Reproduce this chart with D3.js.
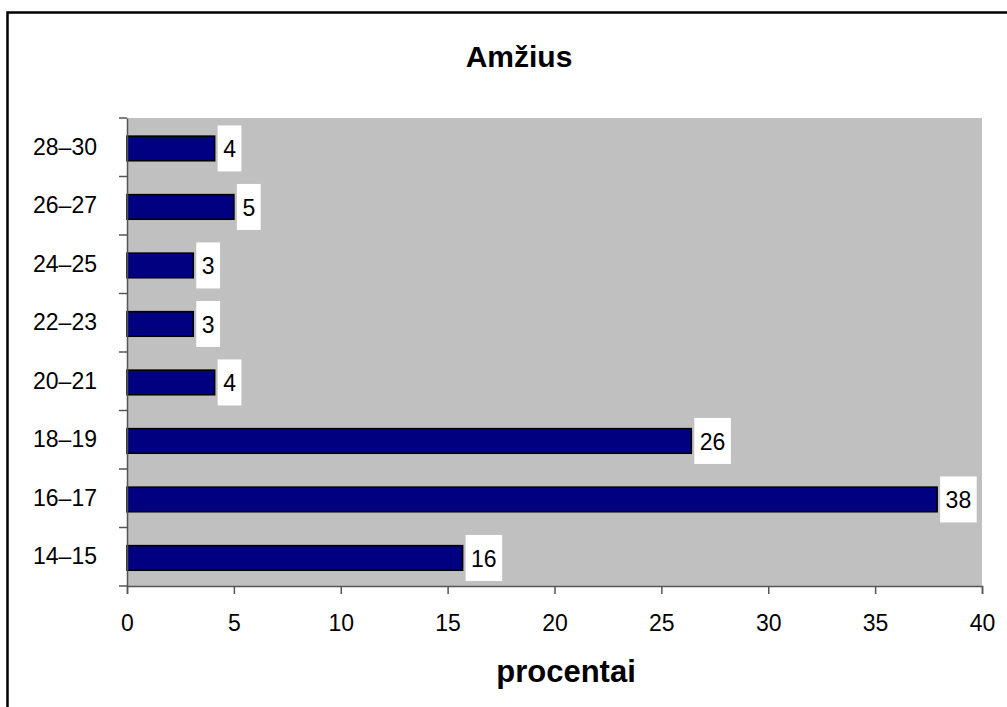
<!DOCTYPE html>
<html>
<head>
<meta charset="utf-8">
<script src="https://cdn.jsdelivr.net/npm/d3@7"></script>
<style>
  html, body { margin: 0; padding: 0; background: #fff; }
  svg { display: block; font-family: Arial, "Liberation Sans", sans-serif; }
</style>
</head>
<body>
<svg id="chart" width="1007" height="707"></svg>
<script>
const categories = ["14–15", "16–17", "18–19", "20–21", "22–23", "24–25", "26–27", "28–30"];
const values = [15.7, 37.9, 26.4, 4.1, 3.1, 3.1, 5.0, 4.1];
const labels = ["16", "38", "26", "4", "3", "3", "5", "4"];
const xTicks = [0, 5, 10, 15, 20, 25, 30, 35, 40];
const titleText = "Amžius";
const xTitleText = "procentai";

const svg = d3.select("#chart");
const plot = { left: 127, right: 982, top: 118, bottom: 586 };

// outer border
svg.append("rect")
  .attr("x", 7.5).attr("y", 12.5)
  .attr("width", 1100).attr("height", 800)
  .attr("fill", "#fff").attr("stroke", "#000").attr("stroke-width", 2.5);

const x = d3.scaleLinear().domain([0, 40]).range([plot.left, plot.right]);
const y = d3.scaleBand().domain(categories).range([plot.bottom, plot.top]);

// plot background
svg.append("rect")
  .attr("x", plot.left).attr("y", plot.top)
  .attr("width", plot.right - plot.left).attr("height", plot.bottom - plot.top)
  .attr("fill", "#C0C0C0");

const bw = y.bandwidth();
const bh = bw * 0.42;

const data = categories.map((c, i) => ({ c, v: values[i], l: labels[i] }));

// bars
svg.append("g").selectAll("rect").data(data).join("rect")
  .attr("x", x(0))
  .attr("y", d => y(d.c) + (bw - bh) / 2 + 1.2)
  .attr("width", d => x(d.v) - x(0))
  .attr("height", bh)
  .attr("fill", "#000080")
  .attr("stroke", "#000").attr("stroke-width", 1.6);

// value labels with white boxes
const lg = svg.append("g");
data.forEach(d => {
  const cy = y(d.c) + bw / 2 + 1.2;
  const g = lg.append("g");
  const rect = g.append("rect").attr("fill", "#fff");
  const t = g.append("text")
    .attr("font-size", 23).attr("fill", "#000")
    .attr("text-anchor", "middle")
    .attr("dominant-baseline", "central")
    .text(d.l);
  const tw = t.node().getComputedTextLength();
  const bx = x(d.v) + 3;
  const boxW = tw + 11;
  rect.attr("x", bx).attr("y", cy - 23).attr("width", boxW).attr("height", 46);
  t.attr("x", bx + boxW / 2).attr("y", cy + 1);
});

// axes
const axisColor = "#555";
const xAxis = svg.append("g")
  .attr("transform", `translate(0,${plot.bottom})`)
  .call(d3.axisBottom(x).tickValues(xTicks).tickSize(8).tickPadding(21).tickFormat(d3.format("d")));
xAxis.select(".domain").attr("stroke", axisColor).attr("stroke-width", 1.5);
xAxis.selectAll(".tick line").attr("stroke", axisColor).attr("stroke-width", 1.5);
xAxis.selectAll(".tick text").attr("font-size", 23).attr("fill", "#000")
  .attr("font-family", "Arial, 'Liberation Sans', sans-serif");

const yAxis = svg.append("g")
  .attr("transform", `translate(${plot.left},0)`)
  .call(d3.axisLeft(y).tickSize(0).tickPadding(30));
yAxis.select(".domain").attr("stroke", axisColor).attr("stroke-width", 1.5);
yAxis.selectAll(".tick text").attr("font-size", 23).attr("fill", "#000")
  .attr("font-family", "Arial, 'Liberation Sans', sans-serif");

// y ticks at band boundaries
const boundaries = categories.map(c => y(c) + bw).concat([y(categories[categories.length - 1])]);
svg.append("g").selectAll("line").data(boundaries).join("line")
  .attr("x1", plot.left - 8).attr("x2", plot.left)
  .attr("y1", d => d).attr("y2", d => d)
  .attr("stroke", axisColor).attr("stroke-width", 1.5);

// titles
svg.append("text")
  .attr("x", 519).attr("y", 67)
  .attr("text-anchor", "middle")
  .attr("font-size", 30).attr("font-weight", "bold")
  .text(titleText);

svg.append("text")
  .attr("x", 566).attr("y", 682)
  .attr("text-anchor", "middle")
  .attr("font-size", 31).attr("font-weight", "bold")
  .text(xTitleText);
</script>
</body>
</html>
